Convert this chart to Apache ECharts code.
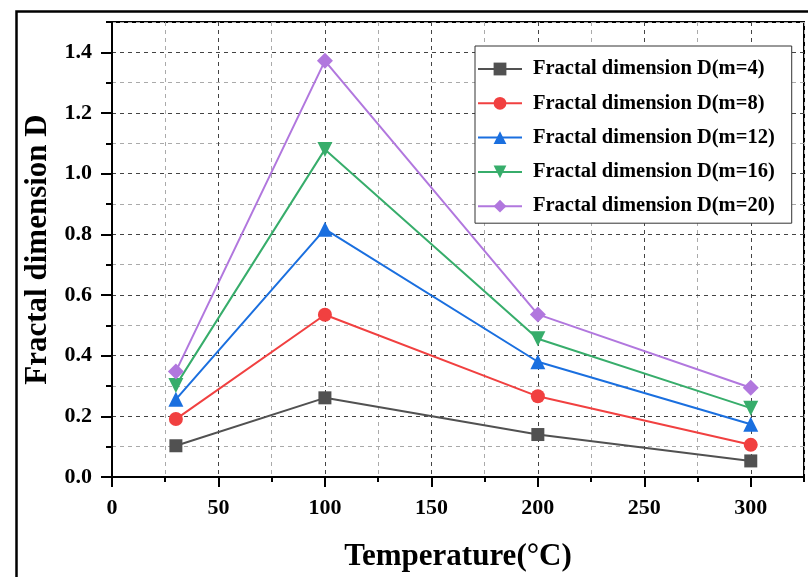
<!DOCTYPE html>
<html>
<head>
<meta charset="utf-8">
<script src="https://cdn.jsdelivr.net/npm/echarts@6/dist/echarts.min.js"></script>
<style>html,body{margin:0;padding:0;background:#fff;}#c{width:808px;height:577px;}</style>
</head>
<body>
<div id="c"></div>
<script>
const temperatures = [30, 100, 200, 300];
const seriesNames = ['Fractal dimension D(m=4)', 'Fractal dimension D(m=8)', 'Fractal dimension D(m=12)', 'Fractal dimension D(m=16)', 'Fractal dimension D(m=20)'];
const dM4 = [0.103, 0.261, 0.140, 0.053];
const dM8 = [0.191, 0.535, 0.266, 0.106];
const dM12 = [0.256, 0.817, 0.380, 0.174];
const dM16 = [0.302, 1.080, 0.456, 0.227];
const dM20 = [0.348, 1.372, 0.536, 0.294];
const xTickLabels = [0, 50, 100, 150, 200, 250, 300];
const yTickLabels = [0, 0.2, 0.4, 0.6, 0.8, 1.0, 1.2, 1.4];

const FONT = "'Liberation Serif', 'Times New Roman', serif";
const colors = ['#515151', '#F14040', '#1A6FDF', '#37AD6B', '#B177DE'];
const symbols = ['rect', 'circle', 'triangle', 'triangle', 'diamond'];
const symbolRot = [0, 0, 0, 180, 0];
const symbolSizes = [13, 14, 15, 15, 16];
const allData = [dM4, dM8, dM12, dM16, dM20];

const chart = echarts.init(document.getElementById('c'));
const series = allData.map((d, i) => ({
  name: seriesNames[i],
  type: 'line',
  xAxisIndex: 0,
  yAxisIndex: 0,
  data: d.map((v, j) => [temperatures[j], v]),
  symbol: symbols[i],
  symbolRotate: symbolRot[i],
  symbolSize: symbolSizes[i],
  showAllSymbol: true,
  color: colors[i],
  lineStyle: { width: 2, color: colors[i] },
  itemStyle: { color: colors[i] },
  z: 10
}));

const option = {
  animation: false,
  backgroundColor: '#fff',
  graphic: [{
    type: 'rect', left: 14, top: 9, shape: { width: 900, height: 700 },
    style: { fill: 'none', stroke: '#000', lineWidth: 2.5 }, z: -10
  }],
  grid: { left: 112, top: 22, right: 4, bottom: 99, show: true, borderColor: '#000', borderWidth: 2, backgroundColor: 'transparent' },
  xAxis: [{
    type: 'value', min: 0, max: 325, interval: 50,
    name: 'Temperature(°C)', nameLocation: 'middle', nameGap: 64,
    nameTextStyle: { fontFamily: FONT, fontWeight: 'bold', fontSize: 31, color: '#000' },
    axisLine: { show: true, lineStyle: { color: '#000', width: 2 } },
    axisTick: { show: true, length: 10, inside: false, lineStyle: { color: '#000', width: 2 }, customValues: xTickLabels },
    axisLabel: { show: true, margin: 20, fontFamily: FONT, fontWeight: 'bold', fontSize: 22, color: '#000', customValues: xTickLabels },
    splitLine: { show: true, lineStyle: { color: '#444', type: [4, 4], width: 1 } },
    z: 5
  }, {
    type: 'value', min: 0, max: 325, interval: 25, gridIndex: 0,
    position: 'bottom',
    axisLine: { show: false },
    axisTick: { show: true, length: 5, lineStyle: { color: '#000', width: 2 } },
    axisLabel: { show: false },
    splitLine: { show: true, lineStyle: { color: '#aaa', type: [4, 4], width: 1 } },
    z: 4
  }],
  yAxis: [{
    type: 'value', min: 0, max: 1.5, interval: 0.2,
    name: 'Fractal dimension D', nameLocation: 'middle', nameGap: 59,
    nameTextStyle: { fontFamily: FONT, fontWeight: 'bold', fontSize: 31, color: '#000' },
    axisLine: { show: true, lineStyle: { color: '#000', width: 2 } },
    axisTick: { show: true, length: 11, lineStyle: { color: '#000', width: 2 }, customValues: yTickLabels },
    axisLabel: { show: true, margin: 20, fontFamily: FONT, fontWeight: 'bold', fontSize: 22, color: '#000',
      customValues: yTickLabels, formatter: v => v.toFixed(1) },
    splitLine: { show: true, lineStyle: { color: '#444', type: [4, 4], width: 1 } },
    z: 5
  }, {
    type: 'value', min: 0, max: 1.5, interval: 0.1, gridIndex: 0,
    position: 'left',
    axisLine: { show: false },
    axisTick: { show: true, length: 6, lineStyle: { color: '#000', width: 2 } },
    axisLabel: { show: false },
    splitLine: { show: true, lineStyle: { color: '#aaa', type: [4, 4], width: 1 } },
    z: 4
  }],
  legend: {
    orient: 'vertical', left: 475, top: 46,
    backgroundColor: '#fff', borderColor: '#333', borderWidth: 1,
    padding: [12, 17, 6, 2],
    itemWidth: 44, itemHeight: 16, itemGap: 12.3,
    textStyle: { fontFamily: FONT, fontWeight: 'bold', fontSize: 20.5, color: '#000', lineHeight: 22, padding: [0, 0, 0, 6] },
    data: seriesNames,
    z: 20
  },
  series: series
};
chart.setOption(option);
</script>
</body>
</html>
